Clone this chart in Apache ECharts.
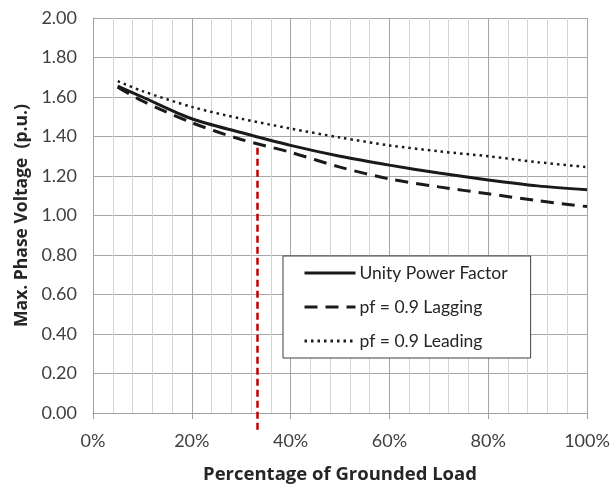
<!DOCTYPE html>
<html><head><meta charset="utf-8">
<script src="https://cdn.jsdelivr.net/npm/echarts@6/dist/echarts.min.js"></script>
<style>html,body{margin:0;padding:0;background:#fff}#c{width:613px;height:485px}</style>
</head><body><div id="c"></div>
<script>
const xPercent = [5, 10, 20, 30, 40, 50, 60, 70, 80, 90, 100];
const unityPF = [1.655, 1.60, 1.49, 1.42, 1.355, 1.30, 1.255, 1.215, 1.18, 1.15, 1.13];
const lagging = [1.65, 1.58, 1.47, 1.385, 1.32, 1.245, 1.185, 1.145, 1.11, 1.075, 1.045];
const leading = [1.68, 1.63, 1.55, 1.49, 1.44, 1.395, 1.355, 1.325, 1.30, 1.27, 1.245];
const markerX = 33.3;
const markerY = [-0.085, 1.36];
const seriesNames = ['Unity Power Factor', 'pf = 0.9 Lagging', 'pf = 0.9 Leading'];

const pair = (xs, ys) => xs.map((x, i) => [x, ys[i]]);
const font = 'Lato, "Open Sans", sans-serif';
const boldFont = '"Open Sans", Lato, sans-serif';
const chart = echarts.init(document.getElementById('c'));
chart.setOption({
  animation: false,
  grid: {left: 93, right: 26, top: 18, bottom: 72, outerBoundsMode: 'none', containLabel: false},
  xAxis: {
    type: 'value', min: 0, max: 100, interval: 20,
    name: 'Percentage of Grounded Load', nameLocation: 'middle', nameGap: 52,
    nameTextStyle: {fontFamily: boldFont, fontWeight: 'bold', fontSize: 18.5, color: '#262626'},
    axisLine: {show: true, lineStyle: {color: '#a0a0a0'}},
    axisTick: {show: true, length: 6, lineStyle: {color: '#a0a0a0'}},
    axisLabel: {formatter: v => v + '%', fontFamily: font, fontSize: 18, color: '#404040', margin: 19},
    splitLine: {show: true, lineStyle: {color: '#a6a6a6'}},
    minorTick: {show: false, splitNumber: 5},
    minorSplitLine: {show: true, lineStyle: {color: '#d4d4d4'}}
  },
  yAxis: {
    type: 'value', min: 0, max: 2, interval: 0.2,
    name: 'Max. Phase Voltage  (p.u.)', nameLocation: 'middle', nameGap: 56,
    nameTextStyle: {fontFamily: boldFont, fontWeight: 'bold', fontSize: 17.5, color: '#262626'},
    axisLine: {show: true, lineStyle: {color: '#a0a0a0'}},
    axisTick: {show: false},
    axisLabel: {formatter: v => v.toFixed(2), fontFamily: font, fontSize: 18, color: '#404040', margin: 16},
    splitLine: {show: true, lineStyle: {color: '#a6a6a6'}}
  },
  legend: {
    orient: 'vertical', left: 283, top: 256,
    padding: [7, 23, 7, 20], itemGap: 14, itemWidth: 51, itemHeight: 14,
    itemStyle: {opacity: 0, color: 'transparent', borderWidth: 0},
    lineStyle: {width: 3},
    backgroundColor: '#fff', borderColor: '#404040', borderWidth: 1,
    textStyle: {fontFamily: font, fontSize: 17.5, lineHeight: 20, color: '#262626', padding: [0,0,0,-1]},
    data: seriesNames
  },
  series: [
    {name: seriesNames[0], type: 'line', data: pair(xPercent, unityPF), smooth: 0.3, symbol: 'none',
     lineStyle: {color: '#1a1a1a', width: 3}, itemStyle: {color: '#1a1a1a'}, z: 5},
    {name: seriesNames[1], type: 'line', data: pair(xPercent, lagging), smooth: 0.3, symbol: 'none',
     lineStyle: {color: '#1a1a1a', width: 3, type: [13, 8]}, itemStyle: {color: '#1a1a1a'}, z: 5},
    {name: seriesNames[2], type: 'line', data: pair(xPercent, leading), smooth: 0.3, symbol: 'none',
     lineStyle: {color: '#1a1a1a', width: 2.5, type: [2.5, 4]}, itemStyle: {color: '#1a1a1a'}, z: 5},
    {name: 'marker', type: 'line', data: markerY.map(y => [markerX, y]), symbol: 'none', clip: false,
     lineStyle: {color: '#c00000', width: 2.5, type: [7, 4]}, z: 4}
  ]
});
</script></body></html>
